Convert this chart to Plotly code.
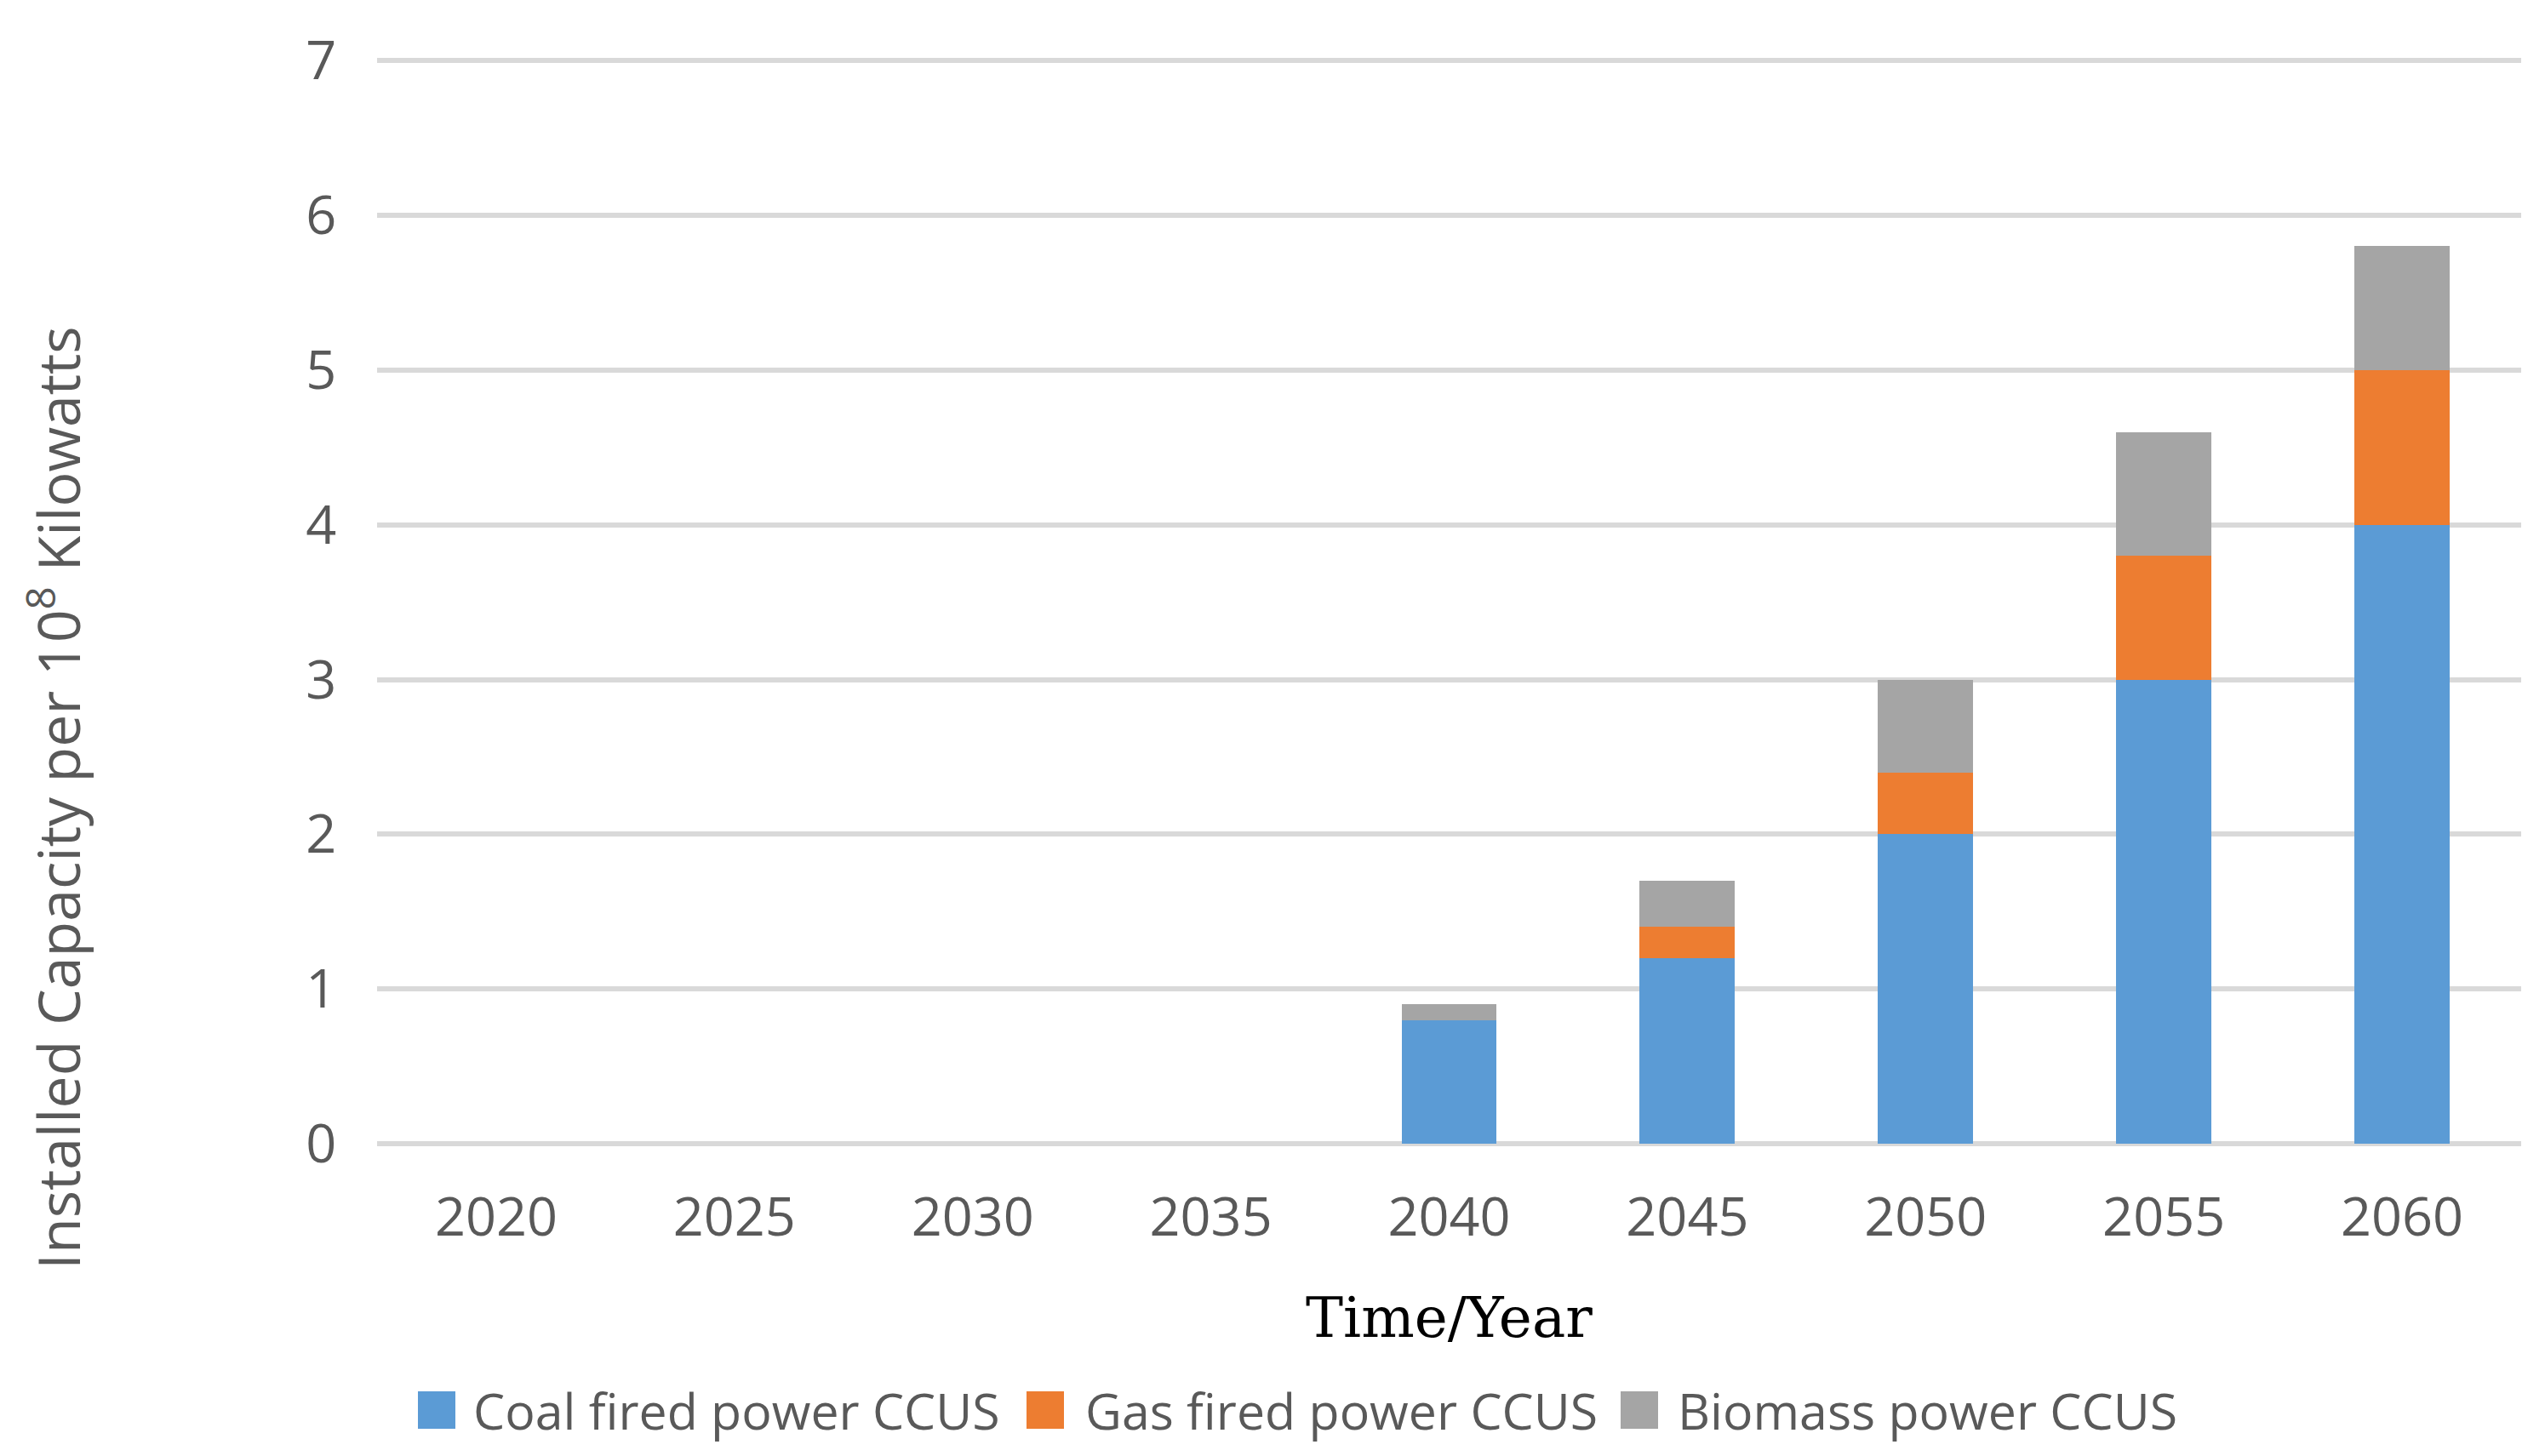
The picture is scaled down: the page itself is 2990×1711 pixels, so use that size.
import plotly.graph_objects as go

years = ["2020", "2025", "2030", "2035", "2040", "2045", "2050", "2055", "2060"]
coal = [0, 0, 0, 0, 0.8, 1.2, 2.0, 3.0, 4.0]
gas = [0, 0, 0, 0, 0.0, 0.2, 0.4, 0.8, 1.0]
biomass = [0, 0, 0, 0, 0.1, 0.3, 0.6, 0.8, 0.8]
series_names = ["Coal fired power CCUS", "Gas fired power CCUS", "Biomass power CCUS"]
series_colors = ["#5B9BD5", "#ED7D31", "#A5A5A5"]
y_ticks = [0, 1, 2, 3, 4, 5, 6, 7]

W, H = 2990, 1711
ML, MR, MT, MB = 435, 36, 61, 375
PW, PH = W - ML - MR, H - MT - MB

fig = go.Figure()
for name, vals, col in zip(series_names, [coal, gas, biomass], series_colors):
    fig.add_trace(go.Bar(x=years, y=vals, name=name, marker=dict(color=col, line=dict(width=0)),
                         showlegend=False))

tick_font = dict(family="Open Sans", size=63, color="#595959")

fig.update_layout(
    width=W, height=H,
    barmode="stack", bargap=0.6,
    margin=dict(l=ML, r=MR, t=MT, b=MB, autoexpand=False),
    paper_bgcolor="white", plot_bgcolor="white",
    xaxis=dict(type="category", tickfont=tick_font, showgrid=False, showline=False,
               ticks="outside", ticklen=31, tickcolor="rgba(0,0,0,0)", zeroline=False),
    yaxis=dict(range=[0, 7.012], tickvals=y_ticks, tickfont=tick_font, showgrid=True,
               gridcolor="#D9D9D9", gridwidth=6, zeroline=True, zerolinecolor="#D9D9D9",
               zerolinewidth=6, showline=False, ticks="outside", ticklen=34,
               tickcolor="rgba(0,0,0,0)"),
    font=dict(family="Open Sans", color="#595959"),
)

def py(pix):
    return (MT + PH - pix) / PH

def px(pix):
    return (pix - ML) / PW

annotations = [
    dict(text="Installed Capacity per 10<sup>8</sup> Kilowatts", xref="paper", yref="paper",
         x=px(56), y=py(930), xanchor="center", yanchor="middle",
         textangle=-90, showarrow=False, font=dict(family="Open Sans", size=68, color="#595959")),
    dict(text="Time/Year", xref="paper", yref="paper",
         x=px(1694), y=py(1540), xanchor="center", yanchor="middle",
         showarrow=False, font=dict(family="DejaVu Serif", size=66, color="#000000")),
]

# custom legend
sq_x = [483, 1198, 1896]
txt_x = [546, 1265, 1961]
leg_y = 1649
sq = 44
shapes = []
for name, col, sx, tx in zip(series_names, series_colors, sq_x, txt_x):
    shapes.append(dict(type="rect", xref="paper", yref="paper",
                       x0=px(sx), x1=px(sx + sq),
                       y0=py(leg_y + sq / 2), y1=py(leg_y - sq / 2),
                       fillcolor=col, line=dict(width=0)))
    annotations.append(dict(text=name, xref="paper", yref="paper", x=px(tx),
                            y=py(leg_y), xanchor="left", yanchor="middle",
                            showarrow=False, font=dict(family="Open Sans", size=59, color="#595959")))

fig.update_layout(annotations=annotations, shapes=shapes)
fig.write_html("out.html")
